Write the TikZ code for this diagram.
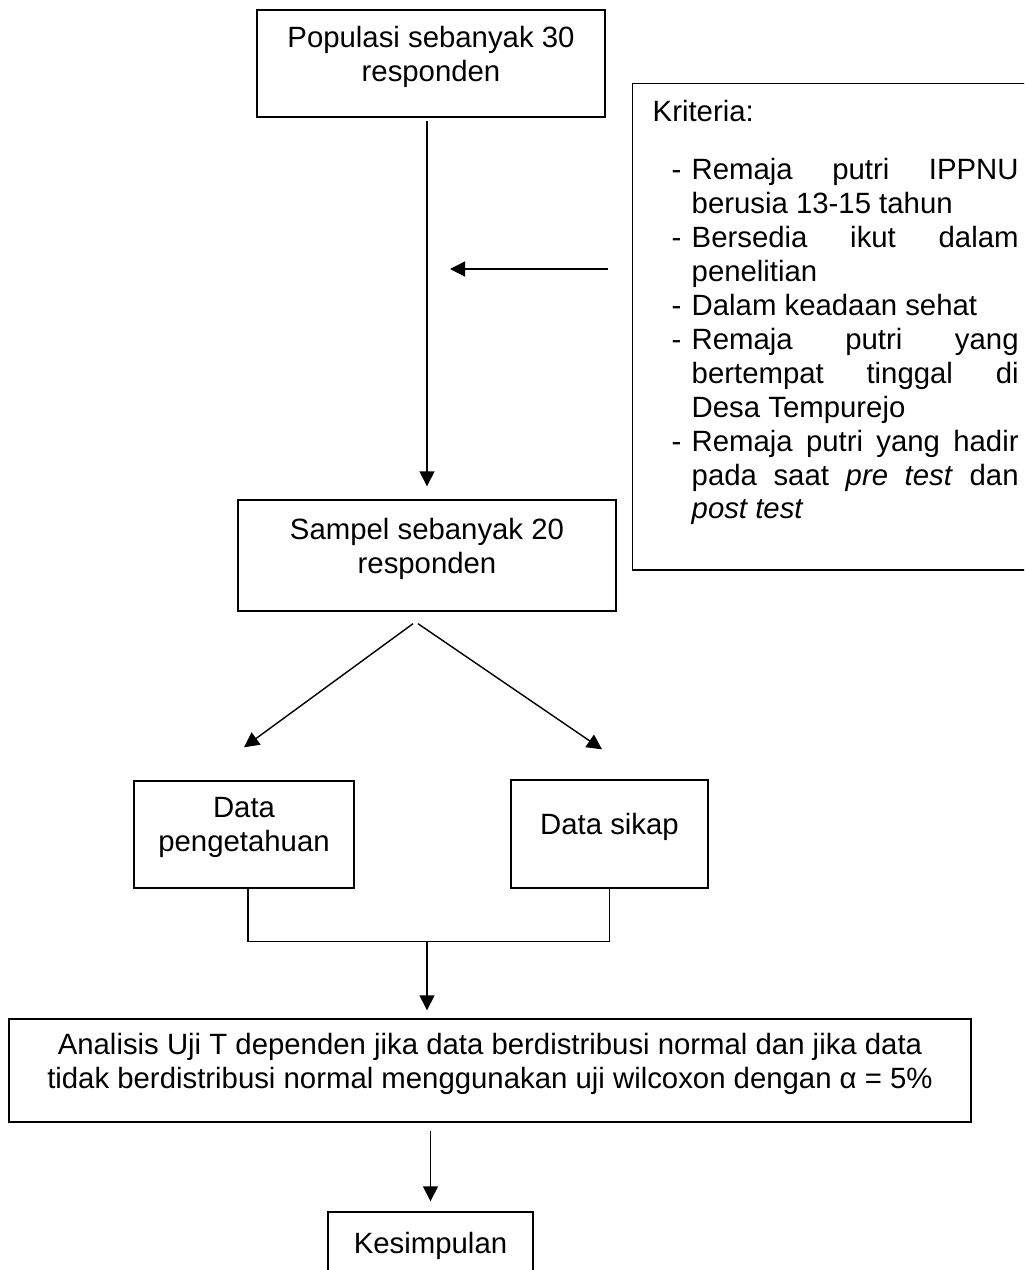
\documentclass[tikz,border=0pt]{standalone}
\usepackage{fontspec}
\setmainfont{Liberation Sans}
\usetikzlibrary{arrows.meta}
\tikzset{
  box/.style={draw, line width=0.8pt, align=center, inner sep=1pt,
    execute at end node={\rule[-0.4cm]{0pt}{0pt}}},
  arr/.style={line width=0.8pt, -{Triangle[length=0.3cm, width=0.3cm]}}
}
% one criterion with its dash and hanging lines
\newcommand{\crit}[1]{\par\hangindent=0.78cm\hangafter=1\hspace*{0.38cm}\makebox[0.4cm][l]{-}#1\par}

\begin{document}
\begin{tikzpicture}[x=0.02cm, y=-0.02cm, font=\fontsize{16.7}{19.3}\selectfont]
  \useasboundingbox (0,0) rectangle (1024,1270);
  \clip (0,0) rectangle (1024,1270);
  \node[box, minimum width=6.96cm, minimum height=2.14cm] (pop) at (431,63.5) {Populasi sebanyak 30\\responden};
  \node[box, minimum width=7.56cm, minimum height=2.22cm] (smp) at (427,555.5) {Sampel sebanyak 20\\responden};
  \node[box, minimum width=4.4cm, minimum height=2.14cm] (dp) at (244,834.5) {Data\\pengetahuan};
  \node[box, minimum width=3.94cm, minimum height=2.16cm] (ds) at (609.5,834) {Data sikap};
  \node[box, minimum width=19.24cm, minimum height=2.06cm] (ana) at (490,1070.5) {Analisis Uji T dependen jika data berdistribusi normal dan jika data\\tidak berdistribusi normal menggunakan uji wilcoxon dengan α = 5\%};
  \node[box, minimum width=4.1cm, minimum height=1.62cm] (kes) at (430.5,1252.5) {Kesimpulan};
  \node[draw, line width=0.8pt, anchor=north west, align=justify, inner xsep=0.4cm, inner ysep=0.34cm, text width=7.32cm] (kri) at (632,83) {Kriteria:\par\vspace{0.48cm}
    \crit{Remaja putri IPPNU\linebreak berusia 13-15 tahun}
    \crit{Bersedia ikut dalam\linebreak penelitian}
    \crit{Dalam keadaan sehat}
    \crit{Remaja putri yang\linebreak bertempat tinggal di\linebreak Desa Tempurejo}
    \crit{Remaja putri yang hadir\linebreak pada saat \textit{pre test} dan\linebreak \textit{post test}\rule[-0.68cm]{0pt}{0pt}}};

  \coordinate (kriout) at (608,269);
  \coordinate (kriin) at (450,269);
  \draw[arr, shorten <=2pt, shorten >=0.26cm] (smp.north |- pop.south) -- (smp.north);
  \draw[arr] (kriout) -- (kriin);
  \draw[arr] ([xshift=-0.28cm, yshift=-0.24cm]smp.south) -- ([yshift=0.66cm]dp.north);
  \draw[arr] ([xshift=-0.18cm, yshift=-0.24cm]smp.south) -- ([xshift=-0.15cm, yshift=0.6cm]ds.north);
  \draw[line width=0.8pt] ([xshift=0.08cm]dp.south) -- ++(0,53) coordinate (join) -| (ds.south);
  \draw[arr, shorten >=0.16cm] (smp.south |- join) -- (smp.south |- ana.north);
  \draw[arr, shorten <=0.16cm, shorten >=0.2cm] (kes.north |- ana.south) -- (kes.north);
\end{tikzpicture}
\end{document}
